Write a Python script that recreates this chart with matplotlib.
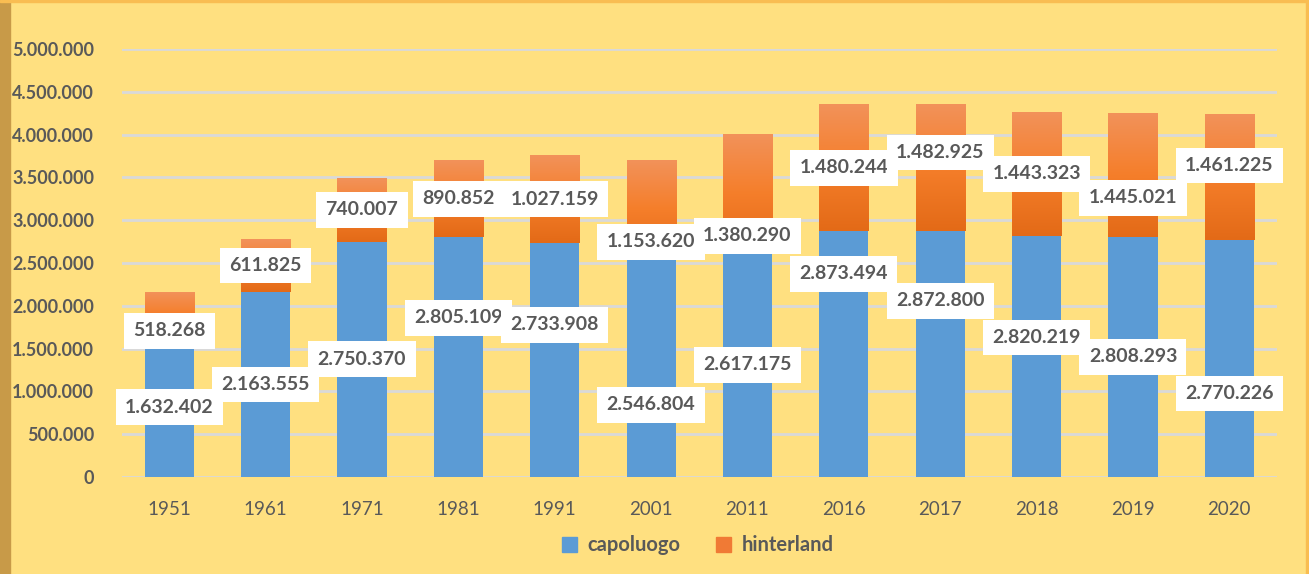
import matplotlib.pyplot as plt
import numpy as np
from matplotlib.colors import LinearSegmentedColormap
from matplotlib.patches import Patch, Rectangle
from matplotlib.ticker import FuncFormatter

plt.rcParams["font.family"] = ["Lato", "DejaVu Sans"]

years = ["1951", "1961", "1971", "1981", "1991", "2001", "2011",
         "2016", "2017", "2018", "2019", "2020"]
capoluogo = [1632402, 2163555, 2750370, 2805109, 2733908, 2546804, 2617175,
             2873494, 2872800, 2820219, 2808293, 2770226]
hinterland = [518268, 611825, 740007, 890852, 1027159, 1153620, 1380290,
              1480244, 1482925, 1443323, 1445021, 1461225]

# label nudges away from the segment centre (data units) so boxes don't collide
cap_shift = [0, 0, 0, 455000, 410000, -430000, 0, 935000, 620000, 220000, 0, -410000]
hin_shift = [-185000, 0, 0, 0, 0, -375000, -490000, 0, 175000, 0, -270000, 140000]

BG = "#FFE080"
BLUE = "#5B9BD5"
TXT = "#595959"
orange_cmap = LinearSegmentedColormap.from_list(
    "hint", ["#E36A17", "#F57E2A", "#F2925A"])


def thousands(v, _pos=None):
    return f"{int(round(v)):,}".replace(",", ".")


fig = plt.figure(figsize=(13.09, 5.74), dpi=100, facecolor=BG)
ax = fig.add_axes([0.0932, 0.169, 0.882, 0.7456])
ax.set_facecolor(BG)

# frame strips around the panel
fig.patches.append(Rectangle((0, 0), 0.0078, 1, transform=fig.transFigure,
                             color="#C89A48", zorder=0))
fig.patches.append(Rectangle((0, 0.9965), 1, 0.0035, transform=fig.transFigure,
                             color="#F9BD52", zorder=0))
fig.patches.append(Rectangle((0.9975, 0), 0.0025, 1, transform=fig.transFigure,
                             color="#F9BD52", zorder=0))

x = np.arange(len(years))
w = 0.51
cap = np.array(capoluogo)
hin = np.array(hinterland)

ax.bar(x, cap, width=w, color=BLUE, zorder=2)
hbars = ax.bar(x, hin, width=w, bottom=cap, color="none", zorder=2)

grad = np.linspace(0, 1, 256).reshape(-1, 1)
for b in hbars:
    x0, y0 = b.get_x(), b.get_y()
    ax.imshow(grad, cmap=orange_cmap, origin="lower", aspect="auto",
              extent=(x0, x0 + b.get_width(), y0, y0 + b.get_height()),
              zorder=2)

ax.set_xlim(-0.49, len(years) - 0.51)
ax.set_ylim(0, 5000000)
ax.set_yticks(np.arange(0, 5000001, 500000))
ax.yaxis.set_major_formatter(FuncFormatter(thousands))
ax.set_xticks(x)
ax.set_xticklabels(years)
ax.grid(axis="y", color="#D9D9D9", linewidth=2, zorder=1)
ax.set_axisbelow(True)
for s in ax.spines.values():
    s.set_visible(False)
ax.tick_params(length=0)
ax.tick_params(axis="y", labelsize=13, labelcolor=TXT, pad=20)
ax.tick_params(axis="x", labelsize=13.5, labelcolor=TXT, pad=17)
for t in ax.get_yticklabels():
    t.set_fontweight("bold")

box = dict(boxstyle="square,pad=0.48", facecolor="white", edgecolor="none")
for i in range(len(years)):
    ax.text(x[i], cap[i] / 2 + cap_shift[i], thousands(cap[i]),
            ha="center", va="center", fontsize=14, fontweight="bold",
            color=TXT, bbox=box, zorder=4)
    ax.text(x[i], cap[i] + hin[i] / 2 + hin_shift[i], thousands(hin[i]),
            ha="center", va="center", fontsize=14, fontweight="bold",
            color=TXT, bbox=box, zorder=4)

handles = [Patch(color=BLUE, label="capoluogo"),
           Patch(color="#F07A35", label="hinterland")]
leg = fig.legend(handles=handles, loc="center", bbox_to_anchor=(0.533, 0.05),
                 ncol=2, frameon=False, handlelength=0.75, handleheight=0.75,
                 handletextpad=0.5, columnspacing=1.8,
                 prop={"size": 14.5, "weight": "bold"})
for t in leg.get_texts():
    t.set_color(TXT)

fig.savefig("out.png", dpi=100, facecolor=BG)
